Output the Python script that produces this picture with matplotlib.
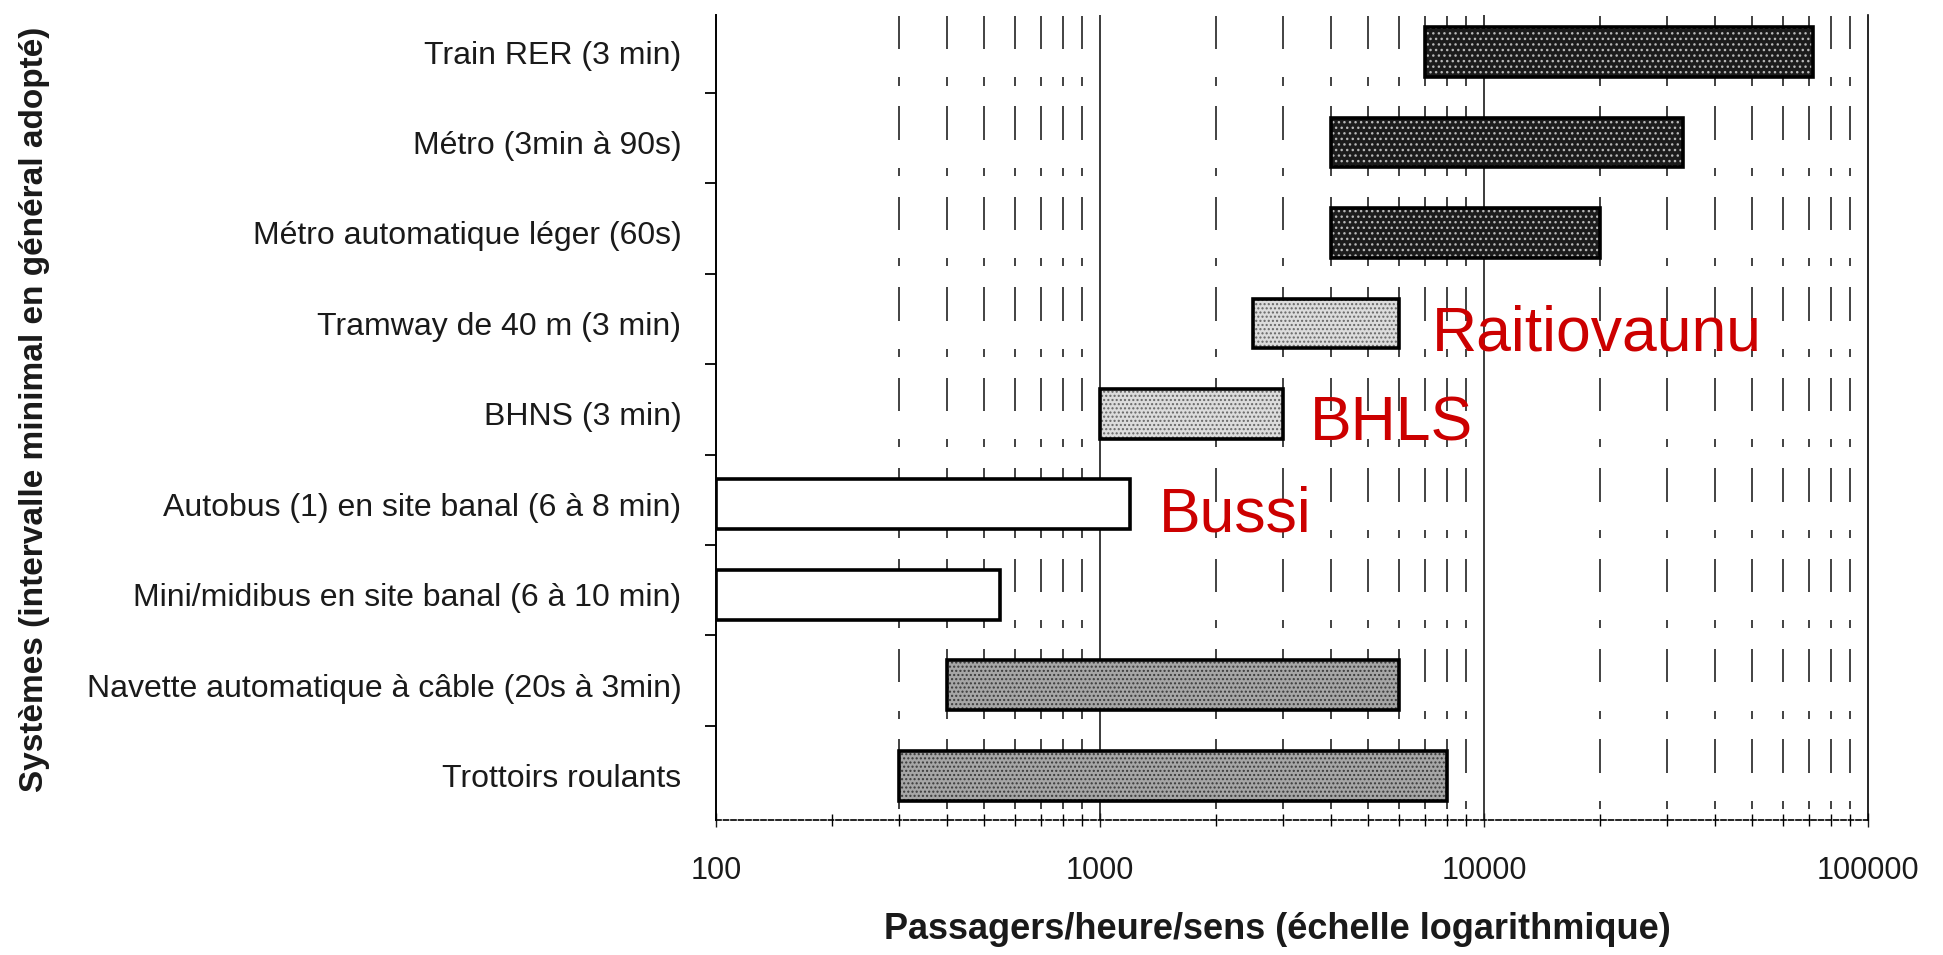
import matplotlib
matplotlib.use('Agg')
from matplotlib import pyplot as plt
from matplotlib import ticker
import numpy as np

plt.rcParams['font.family'] = ['Liberation Sans', 'DejaVu Sans']

systems = [
    'Train RER (3 min)',
    'Métro (3min à 90s)',
    'Métro automatique léger (60s)',
    'Tramway de 40 m (3 min)',
    'BHNS (3 min)',
    'Autobus (1) en site banal (6 à 8 min)',
    'Mini/midibus en site banal (6 à 10 min)',
    'Navette automatique à câble (20s à 3min)',
    'Trottoirs roulants',
]
cap_low = [7000, 4000, 4000, 2500, 1000, 100, 100, 400, 300]
cap_high = [72000, 33000, 20000, 6000, 3000, 1200, 550, 6000, 8000]
shade = ['dark', 'dark', 'dark', 'light', 'light', 'white', 'white',
         'medium', 'medium']

notes = ['Raitiovaunu', 'BHLS', 'Bussi']
note_row = [3, 4, 5]
note_x = [7300, 3530, 1420]

x_major = [100, 1000, 10000, 100000]
x_minor = [v * d for d in (100, 1000, 10000) for v in range(2, 10)]

# fill colour, stipple colour, stipple pattern
FILLS = {
    'dark': ('#1c1c1c', '#b8b8b8', '...'),
    'medium': ('#a6a6a6', '#3a3a3a', '....'),
    'light': ('#dcdcdc', '#666666', '....'),
    'white': ('white', None, None),
}

fig = plt.figure(figsize=(19.43, 9.55), dpi=100)
ax = fig.add_axes([0.3685, 0.1414, 0.5929, 0.8429])
ax.set_xscale('log')

rows = np.arange(len(systems))
low = np.array(cap_low, dtype=float)
high = np.array(cap_high, dtype=float)

# broken vertical grid lines, one long and one short dash per row
grid_x = [x for x in x_minor if x >= 300]
for c in rows:
    ax.vlines(grid_x, c - 0.40, c - 0.03, color='#222222', lw=1.2, zorder=1)
    ax.vlines(grid_x, c + 0.28, c + 0.37, color='#222222', lw=1.2, zorder=1)
for x in (1000, 10000):
    ax.axvline(x, color='#1a1a1a', lw=1.2, zorder=1)

for i in rows:
    face, dots, pattern = FILLS[shade[i]]
    ax.barh(i, high[i] - low[i], left=low[i], height=0.55, color=face,
            linewidth=0, zorder=2)
    if dots:
        ax.barh(i, high[i] - low[i], left=low[i], height=0.55,
                color='none', edgecolor=dots, linewidth=0, hatch=pattern,
                zorder=3)
    ax.barh(i, high[i] - low[i], left=low[i], height=0.55, color='none',
            edgecolor='black', linewidth=2.6, zorder=4)

for name, r, x in zip(notes, note_row, note_x):
    ax.text(x, r + 0.30, name, color='#cc0000', fontsize=45, ha='left',
            va='baseline', zorder=6)

ax.set_xlim(100, 100000)
ax.set_ylim(8.49, -0.41)

ax.set_xticks(x_major, labels=[str(x) for x in x_major])
ax.xaxis.set_minor_locator(ticker.FixedLocator(x_minor))
ax.xaxis.set_minor_formatter(ticker.NullFormatter())
ax.tick_params(axis='x', which='major', direction='inout', length=10,
               width=1.0, labelsize=22, pad=21, colors='#1a1a1a')
ax.tick_params(axis='x', which='minor', direction='inout', length=8,
               width=1.0)

ax.set_yticks(rows, labels=systems)
ax.set_yticks(rows[:-1] + 0.45, minor=True)
ax.tick_params(axis='y', which='major', length=0, pad=25, labelsize=23,
               colors='#1a1a1a')
ax.tick_params(axis='y', which='minor', direction='out', length=8,
               width=1.3)

ax.spines['top'].set_visible(False)
ax.spines['left'].set_linewidth(1.4)
ax.spines['right'].set_linestyle((0, (2, 1)))
ax.spines['right'].set_linewidth(1.2)
ax.spines['bottom'].set_linestyle((0, (3, 1.5)))
ax.spines['bottom'].set_linewidth(1.2)

fig.text(0.6573, 1 - 929 / 955, 'Passagers/heure/sens (échelle logarithmique)',
         fontsize=26, fontweight='bold', ha='center', va='center',
         color='#1a1a1a')
fig.text(35 / 1943, 1 - 409 / 955,
         'Systèmes (intervalle minimal en général adopté)',
         fontsize=24, fontweight='bold', rotation=90, ha='center',
         va='center', color='#1a1a1a')

fig.savefig('out.png', dpi=100)
